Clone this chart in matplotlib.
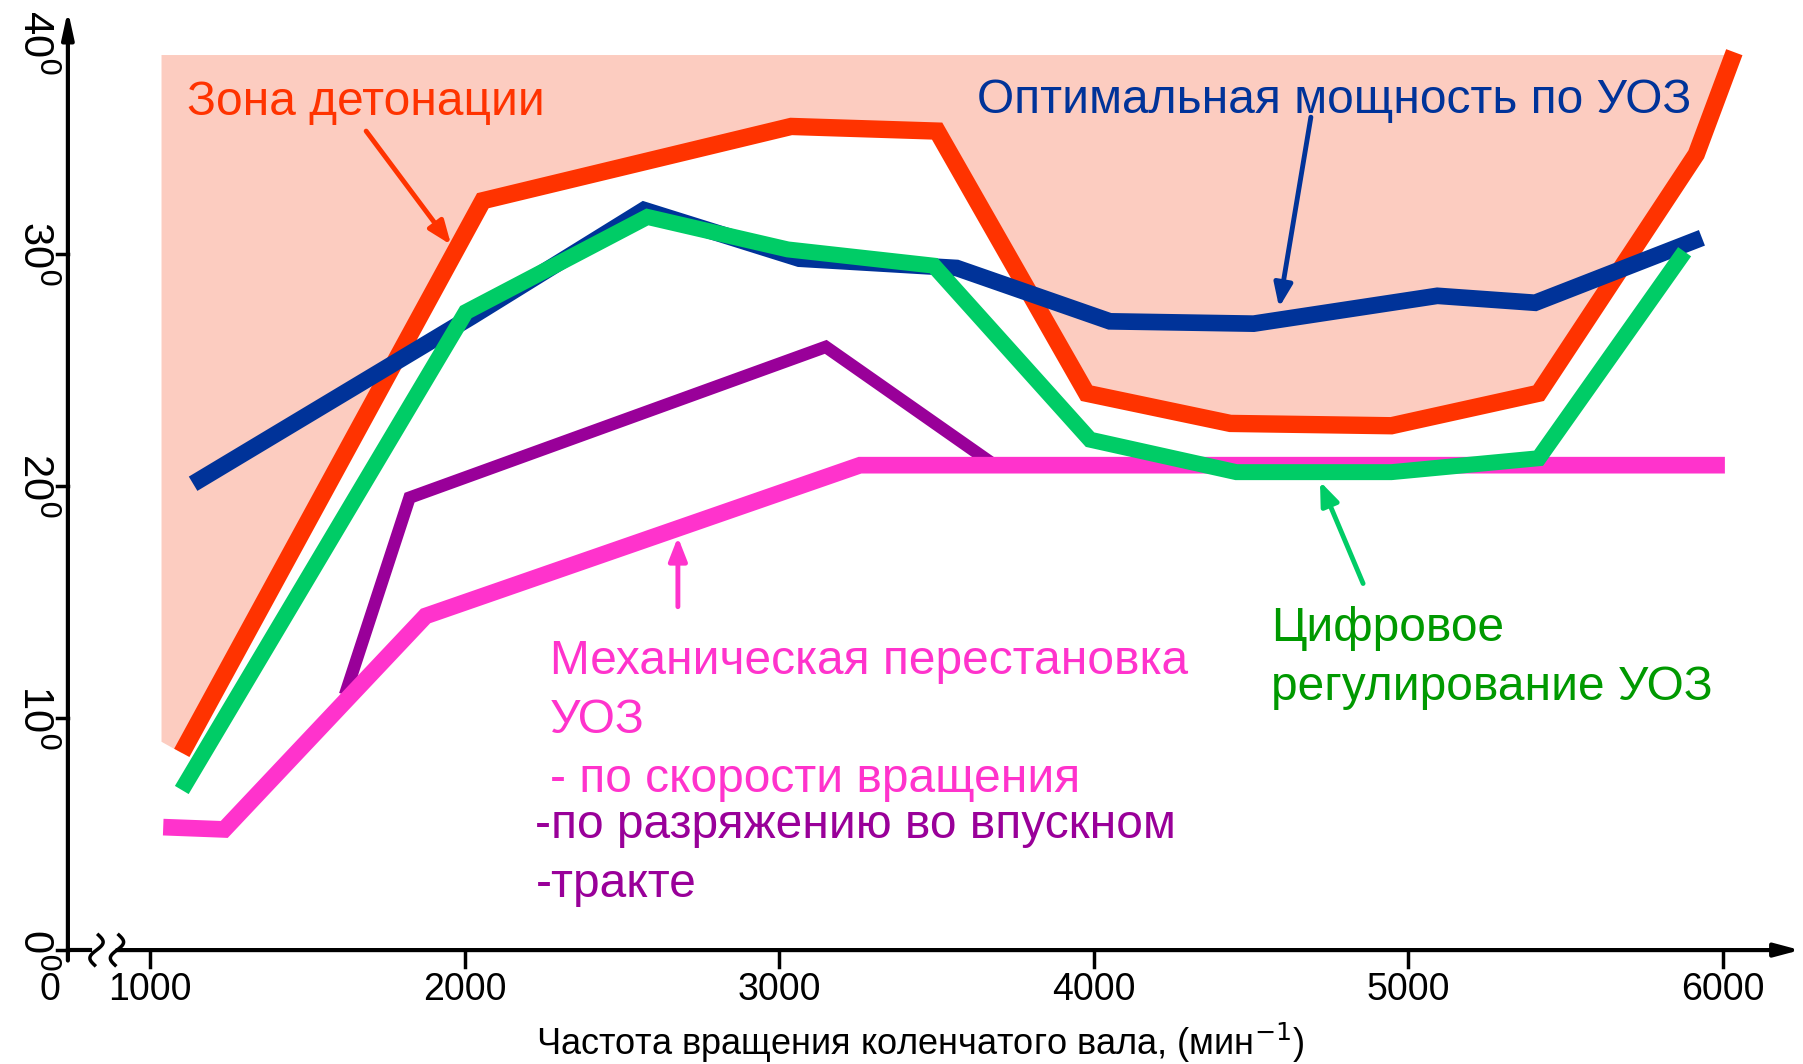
import numpy as np
import matplotlib
matplotlib.use("Agg")
import matplotlib.pyplot as plt

plt.rcParams['font.family'] = ['Liberation Sans Narrow', 'Liberation Sans', 'DejaVu Sans']

# crankshaft speed (rpm) / ignition advance (deg)
knock_rpm = [1101, 2058, 3038, 3502, 3977, 4434, 4946, 5414, 5915, 6036]
knock_deg = [8.5, 32.3, 35.5, 35.3, 24.0, 22.7, 22.6, 24.0, 34.3, 38.7]

optimal_rpm = [1137, 2022, 2570, 3064, 3564, 4051, 4508, 5092, 5403, 5933]
optimal_deg = [20.1, 27.3, 31.9, 29.8, 29.4, 27.1, 27.0, 28.2, 27.9, 30.7]

digital_rpm = [1101, 2004, 2581, 3027, 3491, 3988, 4453, 4946, 5414, 5878]
digital_deg = [6.9, 27.5, 31.6, 30.2, 29.5, 22.0, 20.6, 20.6, 21.2, 30.1]

vacuum_rpm = [1620, 1825, 3148, 3685]
vacuum_deg = [11.0, 19.5, 26.0, 20.9]

mech_rpm = [1042, 1236, 1876, 3257, 6006]
mech_deg = [5.3, 5.2, 14.4, 20.9, 20.9]

x_ticks = [1000, 2000, 3000, 4000, 5000, 6000]
y_ticks = [0, 10, 20, 30, 40]
y_tick_labels = ['0$^0$', '10$^0$', '20$^0$', '30$^0$', '40$^0$']

zone_top = 38.6
zone_left_rpm = 1035
zone_left_deg = 9.0

RED = '#FF3300'
FILL = '#FCCCC0'
BLUE = '#003399'
GREEN = '#00CC66'
GREEN_TXT = '#009900'
PURPLE = '#990099'
PINK = '#FF33CC'

LABEL_FS = 34.5

fig = plt.figure(figsize=(18.03, 10.64), dpi=100)
ax = fig.add_axes([0, 0, 1, 1])
ax.set_xlim(523.2, 6254.3)
ax.set_ylim(-4.91, 40.95)
ax.axis('off')

# knock zone
zx = [zone_left_rpm] + knock_rpm
zy = np.minimum([zone_left_deg] + knock_deg, zone_top)
ax.fill_between(zx, zy, zone_top, color=FILL, lw=0, zorder=1)

line_kw = dict(solid_joinstyle='miter', solid_capstyle='butt')
ax.plot(knock_rpm, knock_deg, color=RED, lw=12.5, zorder=2, **line_kw)
ax.plot(optimal_rpm, optimal_deg, color=BLUE, lw=12, zorder=3, **line_kw)
ax.plot(vacuum_rpm, vacuum_deg, color=PURPLE, lw=9, zorder=4, **line_kw)
ax.plot(mech_rpm, mech_deg, color=PINK, lw=12, zorder=5, **line_kw)
ax.plot(digital_rpm, digital_deg, color=GREEN, lw=11.5, zorder=6, **line_kw)

# axes with arrows
ax.annotate('', xy=(739, 40.5), xytext=(739, -0.45),
            arrowprops=dict(arrowstyle='-|>,head_length=1.6,head_width=0.35', color='black', lw=3,
                            shrinkA=0, shrinkB=0), zorder=7)
ax.plot([739, 809], [0, 0], color='black', lw=3, zorder=7)
ax.annotate('', xy=(6245, 0), xytext=(895, 0),
            arrowprops=dict(arrowstyle='-|>,head_length=1.5,head_width=0.4', color='black', lw=3,
                            shrinkA=0, shrinkB=0), zorder=7)
# axis break marks
t = np.linspace(0, 1, 30)
for xb in (830, 895):
    ax.plot(xb + 18 * np.sin(2 * np.pi * t) - 12 * (t - 0.5), 0.65 - 1.3 * t, color='black', lw=2.5, zorder=7)

for xt in x_ticks:
    ax.plot([xt, xt], [0, -0.75], color='black', lw=2.5, zorder=7)
    ax.text(xt, -1.7, str(xt), ha='center', va='center', fontsize=27, color='black')
ax.text(682, -1.7, '0', ha='center', va='center', fontsize=27, color='black')

for yt, lab in zip(y_ticks, y_tick_labels):
    if yt < 40:
        ax.plot([704, 739], [yt, yt], color='black', lw=2.5, zorder=7)
    ypos = yt if yt < 40 else 39.1
    ax.text(634, ypos, lab, ha='center', va='center', rotation=-90, fontsize=30, color='black')

ax.text(3448, -4.0, 'Частота вращения коленчатого вала, (мин$^{-1}$)', ha='center', va='center',
        fontsize=26, color='black')

# annotations
arrow_kw = dict(shrinkA=0, shrinkB=0, lw=3.5)
ax.text(1119, 36.0, 'Зона детонации', fontsize=LABEL_FS, color=RED, va='baseline')
ax.annotate('', xy=(1957, 30.4), xytext=(1687, 35.3),
            arrowprops=dict(arrowstyle='-|>,head_length=1.4,head_width=0.55', color=RED, **arrow_kw), zorder=8)

ax.text(3630, 36.1, 'Оптимальная мощность по УОЗ', fontsize=LABEL_FS, color=BLUE, va='baseline')
ax.annotate('', xy=(4589, 27.7), xytext=(4690, 35.9),
            arrowprops=dict(arrowstyle='-|>,head_length=1.4,head_width=0.55', color=BLUE, **arrow_kw), zorder=8)

ax.text(4563, 10.8, 'Цифровое\nрегулирование УОЗ', fontsize=LABEL_FS, color=GREEN_TXT, va='baseline',
        linespacing=1.4)
ax.annotate('', xy=(4719, 20.2), xytext=(4856, 15.8),
            arrowprops=dict(arrowstyle='-|>,head_length=1.4,head_width=0.55', color=GREEN, **arrow_kw), zorder=8)

ax.text(2271, 6.8, 'Механическая перестановка\nУОЗ\n- по скорости вращения', fontsize=LABEL_FS, color=PINK,
        va='baseline', linespacing=1.4)
ax.annotate('', xy=(2678, 17.8), xytext=(2678, 14.8),
            arrowprops=dict(arrowstyle='-|>,head_length=1.4,head_width=0.55', color=PINK, **arrow_kw), zorder=8)

ax.text(2225, 2.3, '-по разряжению во впускном\n-тракте', fontsize=LABEL_FS, color=PURPLE, va='baseline',
        linespacing=1.4)

fig.savefig('out.png', dpi=100)
